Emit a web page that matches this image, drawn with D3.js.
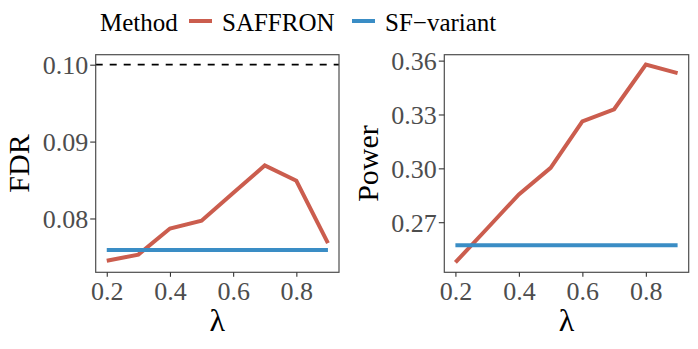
<!DOCTYPE html>
<html>
<head>
<meta charset="utf-8">
<script src="https://cdn.jsdelivr.net/npm/d3@7"></script>
<style>
body { margin: 0; background: #fff; }
svg text { font-family: "Liberation Serif", "DejaVu Serif", serif; }
</style>
</head>
<body>
<div id="chart"></div>
<script>
var lambdas = [0.2, 0.3, 0.4, 0.5, 0.6, 0.7, 0.8, 0.9];
var methods = ["SAFFRON", "SF\u2212variant"];
var colors = ["#cb5d4e", "#3a8dc5"];

// FDR panel
var fdrSaffron = [0.0745, 0.0753, 0.0787, 0.0797, 0.0833, 0.0869, 0.0849, 0.0768];
var fdrVariant = [0.0759, 0.0759, 0.0759, 0.0759, 0.0759, 0.0759, 0.0759, 0.0759];
var fdrTicks = [0.08, 0.09, 0.10];
var fdrTarget = 0.10;

// Power panel
var powSaffron = [0.2476, 0.2665, 0.2855, 0.3003, 0.3261, 0.3329, 0.3578, 0.3530];
var powVariant = [0.2572, 0.2572, 0.2572, 0.2572, 0.2572, 0.2572, 0.2572, 0.2572];
var powTicks = [0.27, 0.30, 0.33, 0.36];

var xTicks = [0.2, 0.4, 0.6, 0.8];

var width = 698, height = 349;
var svg = d3.select("#chart").append("svg")
    .attr("width", width).attr("height", height);

// legend
var legend = svg.append("g").attr("class", "legend");
legend.append("text").attr("x", 100).attr("y", 31)
    .style("font-size", "25px").attr("fill", "#000").text("Method");
var legX = [189, 352];
methods.forEach(function(m, i) {
    legend.append("line")
        .attr("x1", legX[i]).attr("x2", legX[i] + 23)
        .attr("y1", 21).attr("y2", 21)
        .attr("stroke", colors[i]).attr("stroke-width", 4);
    legend.append("text").attr("x", legX[i] + 33).attr("y", 31)
        .style("font-size", "25px").attr("fill", "#000").text(m);
});

function panel(opts) {
    var x = d3.scaleLinear().domain([0.165, 0.935]).range([opts.left, opts.right]);
    var y = d3.scaleLinear().domain(opts.ydom).range([272.3, 54.7]);
    var g = svg.append("g");

    var line = d3.line()
        .x(function(d, i) { return x(lambdas[i]); })
        .y(function(d) { return y(d); });

    if (opts.hline != null) {
        g.append("line")
            .attr("x1", opts.left).attr("x2", opts.right)
            .attr("y1", y(opts.hline)).attr("y2", y(opts.hline))
            .attr("stroke", "#000").attr("stroke-width", 1.8)
            .attr("stroke-dasharray", "7,7");
    }
    opts.series.forEach(function(s, i) {
        g.append("path").datum(s)
            .attr("d", line)
            .attr("fill", "none")
            .attr("stroke", colors[i])
            .attr("stroke-width", 4);
    });

    g.append("rect")
        .attr("x", opts.left).attr("y", 54.7)
        .attr("width", opts.right - opts.left).attr("height", 272.3 - 54.7)
        .attr("fill", "none").attr("stroke", "#4d4d4d").attr("stroke-width", 1.2);

    var xAxis = g.append("g")
        .attr("transform", "translate(0,272.3)")
        .call(d3.axisBottom(x).tickValues(xTicks).tickSize(4.5).tickPadding(5)
            .tickFormat(d3.format(".1f")));
    var yAxis = g.append("g")
        .attr("transform", "translate(" + opts.left + ",0)")
        .call(d3.axisLeft(y).tickValues(opts.yticks).tickSize(5.5).tickPadding(2)
            .tickFormat(d3.format(".2f")));
    [xAxis, yAxis].forEach(function(a) {
        a.select(".domain").remove();
        a.selectAll(".tick line").attr("stroke", "#333").attr("stroke-width", 1.1);
        a.selectAll(".tick text").attr("fill", "#4d4d4d")
            .style("font-size", "26px").style("font-family", "Liberation Serif");
    });
    yAxis.selectAll(".tick text").attr("dy", "0.34em");

    g.append("text")
        .attr("x", (opts.left + opts.right) / 2).attr("y", 331)
        .attr("text-anchor", "middle")
        .style("font-size", "32px").text("\u03bb");
    g.append("text")
        .attr("transform", "translate(" + opts.titleX + ",163.5) rotate(-90)")
        .attr("text-anchor", "middle")
        .style("font-size", "30px").text(opts.title);
}

panel({
    left: 95.7, right: 339, ydom: [0.0730, 0.1013],
    yticks: fdrTicks, hline: fdrTarget,
    series: [fdrSaffron, fdrVariant], title: "FDR", titleX: 29
});
panel({
    left: 444.3, right: 688.7, ydom: [0.2421, 0.3633],
    yticks: powTicks, hline: null,
    series: [powSaffron, powVariant], title: "Power", titleX: 378
});
</script>
</body>
</html>
